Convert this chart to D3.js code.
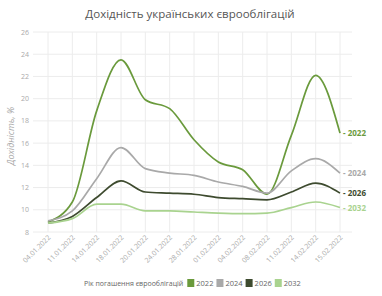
<!DOCTYPE html>
<html lang="uk">
<head>
    <meta charset="UTF-8">
    <title>Дохідність українських єврооблігацій</title>
    <script src="https://d3js.org/d3.v7.min.js"></script>
    <style>
        body { margin: 0; background: #fff; font-family: "Open Sans", sans-serif; }
        .grid line { stroke: #ececec; stroke-width: 1; }
        .tick-label { fill: #aaa; font-size: 7px; }
    </style>
</head>
<body>
    <svg id="chart" width="382" height="296"></svg>
    <script>
        // Dates on the x axis (evenly spaced categories)
        const dates = ["04.01.2022", "11.01.2022", "14.01.2022", "18.01.2022", "20.01.2022",
            "24.01.2022", "28.01.2022", "01.02.2022", "04.02.2022", "08.02.2022",
            "11.02.2022", "14.02.2022", "15.02.2022"];

        // Yields, %
        const y2022 = [8.9, 10.7, 18.9, 23.5, 19.9, 19.1, 16.3, 14.3, 13.6, 11.4, 16.7, 22.1, 16.9];
        const y2024 = [9.0, 9.9, 12.8, 15.6, 13.7, 13.3, 13.1, 12.5, 12.1, 11.5, 13.5, 14.6, 13.3];
        const y2026 = [8.8, 9.4, 11.1, 12.6, 11.6, 11.5, 11.4, 11.1, 11.0, 10.9, 11.6, 12.4, 11.5];
        const y2032 = [8.8, 9.2, 10.5, 10.5, 9.9, 9.9, 9.8, 9.7, 9.65, 9.7, 10.2, 10.7, 10.2];

        const yTicks = [8, 10, 12, 14, 16, 18, 20, 22, 24, 26];

        const series = [
            { name: "2022", values: y2022, color: "#6a9a3c" },
            { name: "2024", values: y2024, color: "#a9a9a9" },
            { name: "2026", values: y2026, color: "#3e4b2f" },
            { name: "2032", values: y2032, color: "#a9d38f" }
        ];

        const svg = d3.select("#chart");
        const plotLeft = 33, plotRight = 352, plotTop = 32, plotBottom = 232;

        const x = d3.scalePoint().domain(dates).range([48, 340]);
        const y = d3.scaleLinear().domain([8, 26]).range([plotBottom, plotTop]);

        // title
        svg.append("text")
            .attr("x", 190).attr("y", 18)
            .attr("text-anchor", "middle")
            .attr("font-size", "11.5px")
            .attr("fill", "#555")
            .text("Дохідність українських єврооблігацій");

        // grid
        const grid = svg.append("g").attr("class", "grid");
        grid.selectAll(".h").data(yTicks).join("line")
            .attr("x1", plotLeft).attr("x2", plotRight)
            .attr("y1", d => y(d)).attr("y2", d => y(d));
        grid.selectAll(".v").data(dates).join("line")
            .attr("x1", d => x(d)).attr("x2", d => x(d))
            .attr("y1", plotTop).attr("y2", plotBottom);

        // y tick labels
        svg.append("g").selectAll("text").data(yTicks).join("text")
            .attr("class", "tick-label")
            .attr("x", 29).attr("y", d => y(d) + 2.5)
            .attr("text-anchor", "end")
            .text(d => d);

        // y axis title
        svg.append("text")
            .attr("transform", `translate(14, ${(plotTop + plotBottom) / 2 + 4}) rotate(-90)`)
            .attr("text-anchor", "middle")
            .attr("font-size", "9px")
            .attr("font-style", "italic")
            .attr("fill", "#aaa")
            .text("Дохідність, %");

        // x tick labels, rotated
        svg.append("g").selectAll("text").data(dates).join("text")
            .attr("class", "tick-label")
            .attr("text-anchor", "end")
            .attr("transform", d => `translate(${x(d) + 3}, ${plotBottom + 6}) rotate(-45)`)
            .text(d => d);

        // lines
        const line = d3.line()
            .x((d, i) => x(dates[i]))
            .y(d => y(d))
            .curve(d3.curveMonotoneX);

        series.forEach(s => {
            svg.append("path")
                .datum(s.values)
                .attr("fill", "none")
                .attr("stroke", s.color)
                .attr("stroke-width", 1.7)
                .attr("d", line);
        });

        // end labels
        series.forEach(s => {
            const last = s.values[s.values.length - 1];
            svg.append("text")
                .attr("x", 343)
                .attr("y", y(last) + 3)
                .attr("font-size", "8px")
                .attr("font-weight", "bold")
                .attr("fill", s.color)
                .text("- " + s.name);
        });

        // legend, laid out by measured text widths
        const legend = svg.append("g").attr("transform", "translate(0, 283)");
        const legendTitle = legend.append("text")
            .attr("x", 0).attr("y", 3)
            .attr("font-size", "7px")
            .attr("fill", "#666")
            .text("Рік погашення єврооблігацій");
        let lx = legendTitle.node().getComputedTextLength() + 4;
        series.forEach(s => {
            legend.append("rect")
                .attr("x", lx).attr("y", -4)
                .attr("width", 7).attr("height", 8)
                .attr("fill", s.color);
            const t = legend.append("text")
                .attr("x", lx + 9).attr("y", 3)
                .attr("font-size", "7.5px")
                .attr("fill", "#666")
                .text(s.name);
            lx += 9 + t.node().getComputedTextLength() + 3;
        });
        legend.attr("transform", `translate(${194 - lx / 2}, 283)`);
    </script>
</body>
</html>
